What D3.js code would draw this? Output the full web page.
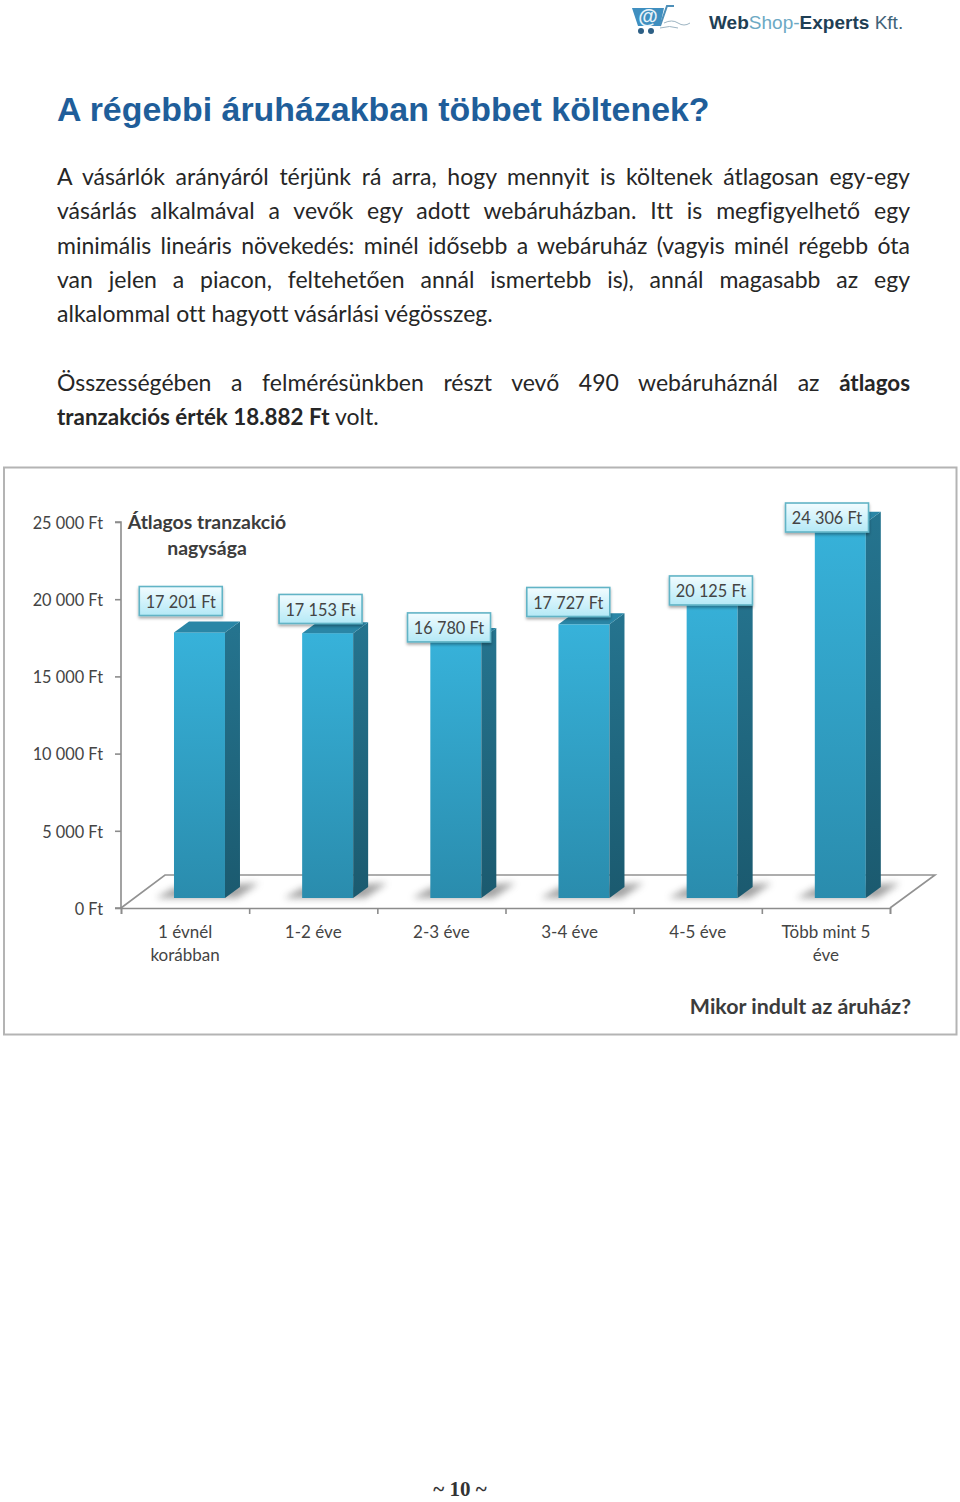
<!DOCTYPE html>
<html>
<head>
<meta charset="utf-8">
<script src="https://cdn.jsdelivr.net/npm/d3@7"></script>
<style>
html, body { margin: 0; padding: 0; background: #fff; }
#page { position: relative; width: 960px; height: 1502px; overflow: hidden; font-feature-settings: "liga" 0, "clig" 0; letter-spacing: 0.01px; }
#page svg { position: absolute; left: 0; top: 0; }
.line { position: absolute; left: 57px; width: 853px; white-space: normal; font: 23px/34px Lato, sans-serif; color: #262626; text-align: justify; text-align-last: justify; }
.line.last { text-align-last: left; }
.line b { font-size: 22.4px; }
.title { position: absolute; left: 57px; top: 87px; font: bold 33.9px/44px "Liberation Sans", sans-serif; color: #1f5e9a; white-space: nowrap; }
.foot { position: absolute; left: 0; width: 920px; top: 1476px; text-align: center; font: bold 21px/26px "Liberation Serif", serif; color: #333; }
.tick text, .val { font-family: Lato, sans-serif; font-size: 16.3px; fill: #444; }
.cat { font-family: Lato, sans-serif; font-size: 17px; fill: #444; }
.head { font-family: Lato, sans-serif; font-weight: bold; fill: #3c3c3c; }
</style>
</head>
<body>
<div id="page"></div>
<script>
// adatok
const categories = [["1 évnél", "korábban"], ["1-2 éve"], ["2-3 éve"], ["3-4 éve"], ["4-5 éve"], ["Több mint 5", "éve"]];
const values = [17201, 17153, 16780, 17727, 20125, 24306];
const y_ticks = [0, 5000, 10000, 15000, 20000, 25000];
const y_title = ["Átlagos tranzakció", "nagysága"];
const x_title = "Mikor indult az áruház?";
const page_title = "A régebbi áruházakban többet költenek?";
const para_lines = [
    "A vásárlók arányáról térjünk rá arra, hogy mennyit is költenek átlagosan egy-egy",
    "vásárlás alkalmával a vevők egy adott webáruházban. Itt is megfigyelhető egy",
    "minimális lineáris növekedés: minél idősebb a webáruház (vagyis minél régebb óta",
    "van jelen a piacon, feltehetően annál ismertebb is), annál magasabb az egy",
    "alkalommal ott hagyott vásárlási végösszeg."
];
const para2_lines = [
    "Összességében a felmérésünkben részt vevő 490 webáruháznál az <b>átlagos</b>",
    "<b>tranzakciós érték 18.882 Ft</b> volt."
];

const plot_left = 121, plot_right = 890;
const plot_bottom = 908, plot_top = 522;
const bar_w = 51, depth_x = 15, depth_y = 11;   // 3d oszlop
const floor_dx = 44, floor_dy = 33;
const bar_shift = 14.4, bar_lift = 10;

const page = d3.select("#page");
page.append("div").attr("class", "title").text(page_title);
para_lines.forEach((t, i) => {
    page.append("div").attr("class", "line" + (i == para_lines.length - 1 ? " last" : ""))
        .style("top", (159 + i * 34.3) + "px").html(t);
});
para2_lines.forEach((t, i) => {
    page.append("div").attr("class", "line" + (i == para2_lines.length - 1 ? " last" : ""))
        .style("top", (365 + i * 34.3) + "px").html(t);
});
page.append("div").attr("class", "foot").text("~ 10 ~");

const svg = page.append("svg").attr("width", 960).attr("height", 1502);
const defs = svg.append("defs");

function gradient(id, c1, c2) {
    const g = defs.append("linearGradient").attr("id", id).attr("x1", 0).attr("y1", 0).attr("x2", 0).attr("y2", 1);
    g.append("stop").attr("offset", "0%").attr("stop-color", c1);
    g.append("stop").attr("offset", "100%").attr("stop-color", c2);
}
gradient("front", "#37b2da", "#2a8cad");
gradient("side", "#25748f", "#1b5a6f");
gradient("box", "#f2fcff", "#b4e9f6");
defs.append("filter").attr("id", "blur").attr("x", "-30%").attr("y", "-50%").attr("width", "160%").attr("height", "200%")
    .append("feGaussianBlur").attr("stdDeviation", 3.5);
defs.append("filter").attr("id", "drop").attr("x", "-20%").attr("y", "-20%").attr("width", "140%").attr("height", "150%")
    .append("feDropShadow").attr("dx", 0).attr("dy", 2).attr("stdDeviation", 1.5).attr("flood-color", "#000").attr("flood-opacity", 0.35);

// logo
const logo = svg.append("g");
logo.append("path").attr("d", "M632 8 L664 8 L660 26 L638 26 Z").attr("fill", "#3f8fc0");
logo.append("path").attr("d", "M660 26 L667 6 L674 6").attr("fill", "none").attr("stroke", "#4d8fb8").attr("stroke-width", 2);
logo.append("text").attr("x", 648).attr("y", 23).attr("text-anchor", "middle")
    .style("font", "bold 20px 'Liberation Sans'").attr("fill", "#e8f3fa").text("@");
logo.selectAll("circle").data([641, 651]).enter().append("circle")
    .attr("cx", d => d).attr("cy", 31).attr("r", 3).attr("fill", "#2d5f85");
logo.append("path").attr("d", "M664 23 Q672 19 678 23 T690 23 M660 28 Q670 25 678 28")
    .attr("fill", "none").attr("stroke", "#9db4c2").attr("stroke-width", 1);
const logo_text = logo.append("text").attr("x", 709).attr("y", 28.5)
    .style("font", "19px 'Liberation Sans'").attr("fill", "#1f3f55");
logo_text.append("tspan").attr("font-weight", "bold").text("Web");
logo_text.append("tspan").attr("fill", "#6ca9c4").text("Shop-");
logo_text.append("tspan").attr("font-weight", "bold").text("Experts");
logo_text.append("tspan").attr("fill", "#3f6479").text(" Kft.");

// keret
svg.append("rect").attr("x", 4).attr("y", 467.5).attr("width", 952.5).attr("height", 567)
    .attr("fill", "#fff").attr("stroke", "#b4b4b4").attr("stroke-width", 2);

const y = d3.scaleLinear().domain([0, 25000]).range([plot_bottom, plot_top]);
const x = d3.scaleBand().domain(d3.range(values.length)).range([plot_left, plot_right]);
const x_edges = d3.scaleLinear().domain([0, values.length]).range([plot_left, plot_right]);

// padló
svg.append("path")
    .attr("d", d3.line()([
        [plot_left, plot_bottom],
        [plot_left + floor_dx, plot_bottom - floor_dy],
        [plot_right + floor_dx + 1, plot_bottom - floor_dy],
        [plot_right, plot_bottom]
    ]))
    .attr("fill", "none").attr("stroke", "#929292").attr("stroke-width", 1.6);

// tengelyek
const fmt = d => d3.format(",")(d).replace(/,/g, " ") + " Ft";
const y_axis = svg.append("g").attr("transform", `translate(${plot_left},0)`)
    .call(d3.axisLeft(y).tickValues(y_ticks).tickSize(6).tickPadding(12).tickFormat(fmt));
const x_axis = svg.append("g").attr("transform", `translate(0,${plot_bottom})`)
    .call(d3.axisBottom(x_edges).ticks(values.length).tickSize(6).tickFormat(""));
[y_axis, x_axis].forEach(a => {
    a.selectAll("path, line").attr("stroke", "#8c8c8c").attr("stroke-width", 1.6);
});
y_axis.selectAll("text").attr("dy", "0.39em");
y_axis.select("path").attr("d", `M-6,${plot_top}H0V${plot_bottom}H-6`);

// oszlopok
const bars = svg.selectAll(".bar").data(values).enter().append("g").attr("class", "bar");
const bar_x = (d, i) => x(i) + x.step() / 2 - bar_w / 2 + bar_shift;
const base_y = plot_bottom - bar_lift;

bars.append("path").attr("filter", "url(#blur)").attr("fill", "#7a7a7a").attr("opacity", 0.7)
    .attr("d", (d, i) => {
        const l = bar_x(d, i);
        return d3.line()([[l - 18, base_y], [l, base_y - 10], [l + bar_w + 34, base_y - 15], [l + bar_w + 12, base_y]]);
    });
bars.append("rect").attr("x", bar_x).attr("y", d => y(d) - bar_lift).attr("width", bar_w)
    .attr("height", d => base_y - (y(d) - bar_lift)).attr("fill", "url(#front)");
bars.append("path").attr("fill", "url(#side)")
    .attr("d", (d, i) => {
        const r = bar_x(d, i) + bar_w, t = y(d) - bar_lift;
        return d3.line()([[r, t], [r + depth_x, t - depth_y], [r + depth_x, base_y - depth_y], [r, base_y]]);
    });
bars.append("path").attr("fill", "#2a86a6")
    .attr("d", (d, i) => {
        const l = bar_x(d, i), t = y(d) - bar_lift;
        return d3.line()([[l, t], [l + depth_x, t - depth_y], [l + bar_w + depth_x, t - depth_y], [l + bar_w, t]]);
    });

// kézzel elhelyezett címkék eltolása az oszlop tetejéhez képest
const label_nudge = [[-18.7, -31.4], [-7.1, -24.2], [-6.8, -11.5], [-15.7, -22.3], [-1.2, 3.2], [-13.3, -5.2]];
const labels = svg.selectAll(".lab").data(values).enter().append("g")
    .attr("transform", (d, i) => `translate(${bar_x(d, i) + bar_w / 2 + label_nudge[i][0]},${y(d) - bar_lift + label_nudge[i][1]})`);
labels.append("rect").attr("x", -41.5).attr("y", -14.5).attr("width", 83).attr("height", 29)
    .attr("fill", "url(#box)").attr("stroke", "#62b4c6").attr("stroke-width", 1.6).attr("filter", "url(#drop)");
labels.append("text").attr("class", "val").attr("text-anchor", "middle").attr("dy", "0.42em").text(fmt);

// kategóriák
const cat = svg.selectAll(".cat").data(categories).enter().append("text").attr("class", "cat")
    .attr("text-anchor", "middle");
cat.selectAll("tspan").data((d, i) => d.map(t => ({ t: t, i: i }))).enter().append("tspan")
    .attr("x", d => x_edges(d.i + 0.5))
    .attr("y", (d, j) => 938 + j * 23)
    .text(d => d.t);

// címek
svg.selectAll(".ytitle").data(y_title).enter().append("text").attr("class", "head")
    .attr("x", 207).attr("y", (d, i) => 529 + i * 25.5).attr("text-anchor", "middle")
    .style("font-size", "19.4px").text(d => d);
svg.append("text").attr("class", "head").attr("x", 911).attr("y", 1014).attr("text-anchor", "end")
    .style("font-size", "21.4px").text(x_title);
</script>
</body>
</html>
